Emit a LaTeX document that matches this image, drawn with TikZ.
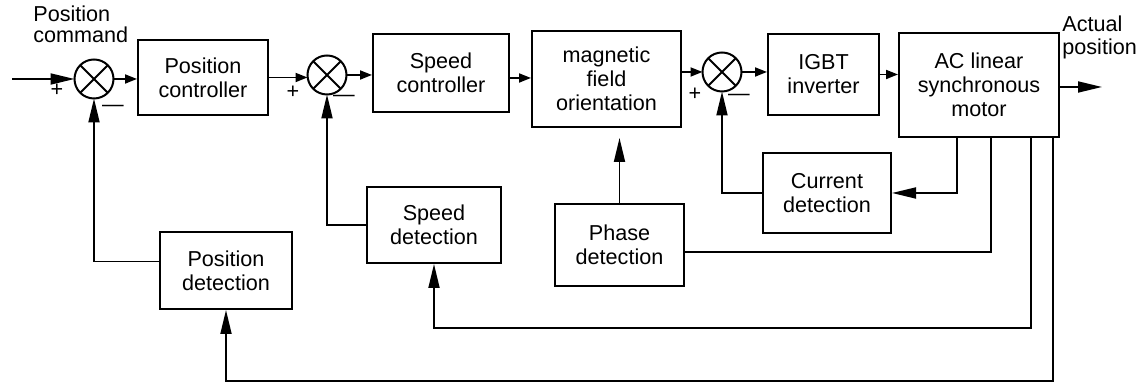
\documentclass[tikz,border=0pt]{standalone}
\usepackage{fontspec}
\setmainfont{Liberation Sans}
\usetikzlibrary{arrows.meta}

\begin{document}
\begin{tikzpicture}[
    x = 0.5pt,
    y = -0.5pt,
    >={Triangle[length=6pt,width=4.5pt]},
    font=\fontsize{10.8}{12}\selectfont,
    block/.style = {draw, line width=1pt, align=center, inner sep=0pt},
    sum/.style = {circle, draw, line width=1pt, minimum size=19.5pt,
              inner sep=0pt, outer sep=0pt,
              path picture={\draw[line width=1pt]
                (path picture bounding box.north west) -- (path picture bounding box.south east)
                (path picture bounding box.north east) -- (path picture bounding box.south west);}},
    wire/.style = {line width=0.9pt},
    back/.style = {wire, -{Triangle[length=12pt,width=5.5pt]}},
    sign/.style = {inner sep=0pt},
    ]

\useasboundingbox (0,0) rectangle (1142,383);

% forward path
\node[sum] (sum_1) at (94,79){};
\node[block, minimum width=65pt, minimum height=37.5pt] (pos_ctrl) at (203,77.5) {Position\\controller};
\node[sum] (sum_2) at (327,75){};
\node[block, minimum width=68pt, minimum height=39pt] (spd_ctrl) at (441,73) {Speed\\controller};
\node[block, minimum width=74.5pt, minimum height=48pt] (mag_field) at (606.5,79) {magnetic\\field\\orientation};
\node[sum] (sum_3) at (722,72){};
\node[block, minimum width=55.5pt, minimum height=40.5pt] (igbt) at (823.5,74.5) {IGBT\\inverter};
\node[block, minimum width=80pt, minimum height=52pt] (motor) at (979,85) {AC linear\\synchronous\\motor};

% feedback blocks
\node[block, minimum width=64pt, minimum height=40pt] (cur_det) at (827,193) {Current\\detection};
\node[block, minimum width=64.5pt, minimum height=41pt] (phase_det) at (619.5,245) {Phase\\detection};
\node[block, minimum width=67pt, minimum height=38pt] (spd_det) at (434,225) {Speed\\detection};
\node[block, minimum width=66pt, minimum height=38.5pt] (pos_det) at (226,270.5) {Position\\detection};

% texts
\node[anchor=base west, align=left, inner sep=0pt, font=\fontsize{10.8}{10.5}\selectfont] (pos_cmd) at (33,43) {Position\\command};
\node[anchor=base west, align=left, inner sep=0pt, font=\fontsize{10.8}{11.5}\selectfont] (act_pos) at (1062,55) {Actual\\position};
\node[sign] (plus_1) at (57,90) {+};
\node[sign] (minus_1) at (113,108) {—};
\node[sign] (plus_2) at (293,92) {+};
\node[sign] (minus_2) at (344,98) {—};
\node[sign] (plus_3) at (695,94) {+};
\node[sign] (minus_3) at (739,97) {—};

\coordinate (in) at (12,79);
\coordinate (out) at (1102,87);

\draw [back] (in) -- (sum_1.west);
\draw [wire, ->] (sum_1.east) -- (sum_1.east -| pos_ctrl.west);
\draw [wire, ->] (pos_ctrl.east) -- (pos_ctrl.east -| sum_2.west);
\draw [wire, ->] (sum_2.east) -- (sum_2.east -| spd_ctrl.west);
\draw [wire, ->] ([yshift=-2.5pt]spd_ctrl.east) -- ([yshift=-2.5pt]spd_ctrl.east -| mag_field.west);
\draw [wire, ->] (mag_field.east |- sum_3) -- (sum_3.west);
\draw [wire, ->] (sum_3.east) -- (sum_3.east -| igbt.west);
\draw [wire, ->] (igbt.east) -- (igbt.east -| motor.west);
\draw [back] (motor.east |- out) -- (out);

\draw [back] ([xshift=-11pt]motor.south) |- (cur_det.east);
\draw [back] (cur_det.west) -| (sum_3.south);
\draw [wire] ([xshift=6pt]motor.south) |- ([yshift=-3.5pt]phase_det.east);
\draw [back, shorten >=5pt] (phase_det.north) -- (phase_det.north |- mag_field.south);
\draw [back] ([xshift=26pt]motor.south) |- ([yshift=-32pt]spd_det.south) -- (spd_det.south);
\draw [back] (spd_det.west) -| (sum_2.south);
\draw [back] ([xshift=37pt]motor.south) |- ([yshift=-35.5pt]pos_det.south) -- (pos_det.south);
\draw [back] ([yshift=4.5pt]pos_det.west) -| (sum_1.south);

\end{tikzpicture}
\end{document}
